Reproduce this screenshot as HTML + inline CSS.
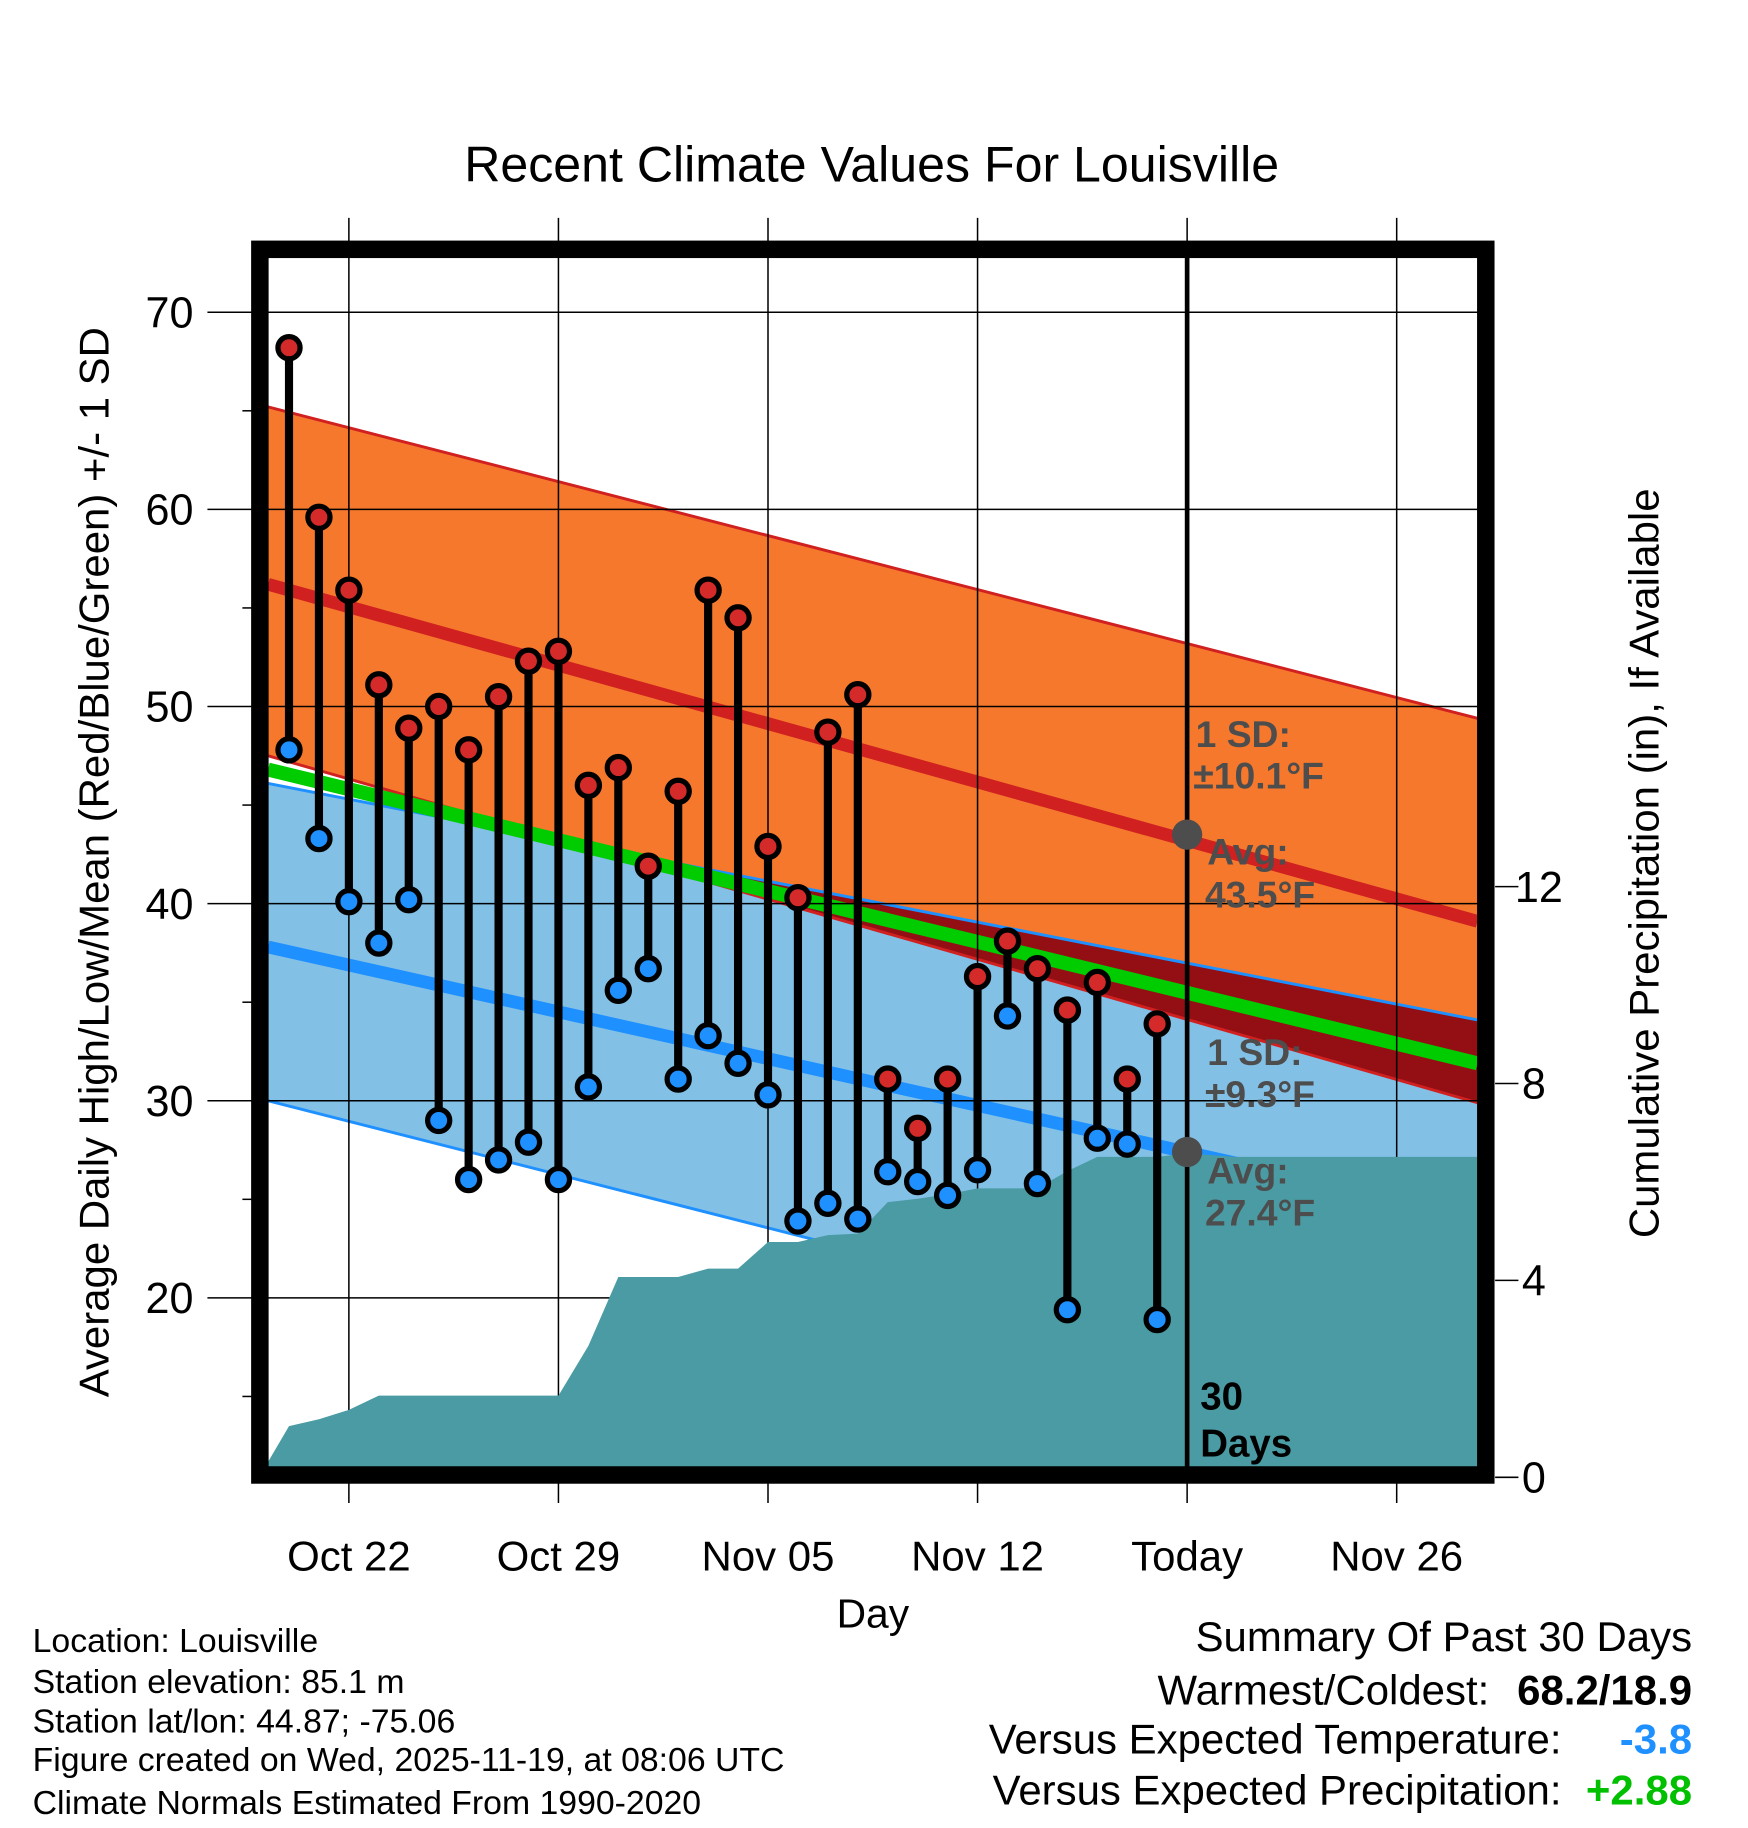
<!DOCTYPE html>
<html><head><meta charset="utf-8"><style>
html,body{margin:0;padding:0;background:#fff}
svg{display:block}
text{font-family:"Liberation Sans",Arial,sans-serif}
</style></head><body>
<svg id="chart" xmlns="http://www.w3.org/2000/svg" width="1748" height="1828" viewBox="0 0 1500 1569" preserveAspectRatio="none">
<defs><clipPath id="plotclip"><rect x="230" y="221" width="1038" height="1038"/></clipPath></defs>
<g id="bands" clip-path="url(#plotclip)"></g>
<g id="grid"></g>
<g id="precip" clip-path="url(#plotclip)"></g>
<g id="obs"></g>
<g id="labels"></g>
<rect x="223" y="214" width="1052" height="1052" fill="none" stroke="#000" stroke-width="15"/>
<text x="748" y="156" font-size="43" text-anchor="middle">Recent Climate Values For Louisville</text>
<text x="749" y="1397" font-size="35" text-anchor="middle">Day</text>
<text transform="translate(93,740) rotate(-90)" font-size="36" text-anchor="middle">Average Daily High/Low/Mean (Red/Blue/Green) +/- 1 SD</text>
<text transform="translate(1423,741) rotate(-90)" font-size="36" text-anchor="middle">Cumulative Precipitation (in), If Available</text>
<g font-size="29">
<text x="28" y="1418">Location: Louisville</text>
<text x="28" y="1453">Station elevation: 85.1 m</text>
<text x="28" y="1487">Station lat/lon: 44.87; -75.06</text>
<text x="28" y="1520">Figure created on Wed, 2025-11-19, at 08:06 UTC</text>
<text x="28" y="1557">Climate Normals Estimated From 1990-2020</text>
</g>
<g font-size="36">
<text x="1452" y="1417" text-anchor="end">Summary Of Past 30 Days</text>
<text x="1278" y="1463" text-anchor="end">Warmest/Coldest:</text>
<text x="1452" y="1463" text-anchor="end" font-weight="bold">68.2/18.9</text>
<text x="1340" y="1505" text-anchor="end">Versus Expected Temperature:</text>
<text x="1452" y="1505" text-anchor="end" font-weight="bold" fill="#1e90ff">-3.8</text>
<text x="1340" y="1549" text-anchor="end">Versus Expected Precipitation:</text>
<text x="1452" y="1549" text-anchor="end" font-weight="bold" fill="#00c000">+2.88</text>
</g>
</svg>
<script>
const NS="http://www.w3.org/2000/svg";
// data
const days=["Oct 20","Oct 21","Oct 22","Oct 23","Oct 24","Oct 25","Oct 26","Oct 27","Oct 28","Oct 29","Oct 30","Oct 31","Nov 01","Nov 02","Nov 03","Nov 04","Nov 05","Nov 06","Nov 07","Nov 08","Nov 09","Nov 10","Nov 11","Nov 12","Nov 13","Nov 14","Nov 15","Nov 16","Nov 17","Nov 18"];
const highs=[68.2,59.6,55.9,51.1,48.9,50.0,47.8,50.5,52.3,52.8,46.0,46.9,41.9,45.7,55.9,54.5,42.9,40.3,48.7,50.6,31.1,28.6,31.1,36.3,38.1,36.7,34.6,36.0,31.1,33.9];
const lows=[47.8,43.3,40.1,38.0,40.2,29.0,26.0,27.0,27.9,26.0,30.7,35.6,36.7,31.1,33.3,31.9,30.3,23.9,24.8,24.0,26.4,25.9,25.2,26.5,34.3,25.8,19.4,28.1,27.8,18.9];
const precipDays=[-1,0,1,2,3,4,5,6,7,8,9,10,11,12,13,14,15,16,17,18,19,20,21,22,23,24,25,26,27,28,29,30,31.6,41];
const precipVals=[0,1.04,1.18,1.37,1.66,1.66,1.66,1.66,1.66,1.66,1.66,2.67,4.07,4.07,4.07,4.24,4.24,4.78,4.78,4.92,4.95,5.59,5.66,5.75,5.87,5.87,5.87,6.22,6.51,6.51,6.51,6.58,6.51,6.51];
const normDays=[-0.7,39.7];
const highMean=[56.2,39.1], highUpper=[65.2,49.4], highLower=[47.5,29.9];
const lowMean=[37.8,24.1], lowUpper=[46.1,34.1], lowLower=[30.0,14.4];
const avgMean=[46.8,31.9];
const todayIdx=30, todayHigh=43.5, todayLow=27.4;
const xTickDays=[2,9,16,23,30,37];
const xTickLabels=["Oct 22","Oct 29","Nov 05","Nov 12","Today","Nov 26"];
const yTicks=[20,30,40,50,60,70];
const yMinor=[15,25,35,45,55,65];
const pTicks=[0,4,8,12];
// axes
const X=d=>248+d*25.69;
const Y=t=>268+(70-t)*16.92;
const P=p=>1268-p*42.25;
function mk(tag,attrs,parent){const e=document.createElementNS(NS,tag);for(const k in attrs)e.setAttribute(k,attrs[k]);parent.appendChild(e);return e;}
const bands=document.getElementById('bands'),grid=document.getElementById('grid'),prec=document.getElementById('precip'),obs=document.getElementById('obs'),lab=document.getElementById('labels');
const x0=X(normDays[0]),x1=X(normDays[1]);
function bandPoly(up,lo,fill,name){const e=mk('polygon',{points:`${x0},${Y(up[0])} ${x1},${Y(up[1])} ${x1},${Y(lo[1])} ${x0},${Y(lo[0])}`,fill:fill},bands);

}
bandPoly(highUpper,highLower,'#f5782d','high-sd-band');
bandPoly(lowUpper,lowLower,'#82c0e6','low-sd-band');
{const d0=lowUpper[0]-highLower[0],d1=lowUpper[1]-highLower[1];
 if(d1>0){const f=d0>0?0:(-d0)/(d1-d0);const xi=x0+f*(x1-x0);const ti=lowUpper[0]+f*(lowUpper[1]-lowUpper[0]);
  const a0=d0>0?`${x0},${Y(lowUpper[0])} `:'';const b0=d0>0?` ${x0},${Y(highLower[0])}`:'';
  const e=mk('polygon',{points:`${a0}${xi},${Y(ti)} ${x1},${Y(lowUpper[1])} ${x1},${Y(highLower[1])}${b0}`,fill:'#940f14'},bands);
  
  }}
function line(vals,stroke,w,name){const e=mk('line',{x1:x0,y1:Y(vals[0]),x2:x1,y2:Y(vals[1]),stroke:stroke,'stroke-width':w},bands);

}
line(highUpper,'#d02020',2.5,'high-upper-line');
line(highLower,'#d02020',2.5,'high-lower-line');
line(lowUpper,'#1e90ff',2.5,'low-upper-line');
line(lowLower,'#1e90ff',2.5,'low-lower-line');
line(highMean,'#d02020',11,'high-mean-line');
line(lowMean,'#1e90ff',11,'low-mean-line');
line(avgMean,'#00cc00',12,'mean-line');
// grid
yTicks.forEach(t=>{const e=mk('line',{x1:178,x2:1268,y1:Y(t),y2:Y(t),stroke:'#000','stroke-width':1.3},grid);


const tx=mk('text',{x:166,y:Y(t)+13,'font-size':37,'text-anchor':'end'},grid);tx.textContent=t;

});
yMinor.forEach(t=>{const e=mk('line',{x1:208,x2:216,y1:Y(t),y2:Y(t),stroke:'#000','stroke-width':1.3},grid);

});
xTickDays.forEach((d,i)=>{const e=mk('line',{x1:X(d),x2:X(d),y1:187,y2:1290,stroke:'#000','stroke-width':1.3},grid);


const tx=mk('text',{x:X(d),y:1348,'font-size':36,'text-anchor':'middle'},grid);tx.textContent=xTickLabels[i];

});
pTicks.forEach(p=>{const e=mk('line',{x1:1283,x2:1303,y1:P(p),y2:P(p),stroke:'#000','stroke-width':1.3},grid);


const tx=mk('text',{x:p>=10?1300:1306,y:P(p)+13,'font-size':37},grid);tx.textContent=p;

});
// precipitation
{let pts=precipDays.map((d,i)=>`${X(d)},${P(precipVals[i])}`).join(' ');
 pts+=` ${X(precipDays[precipDays.length-1])},1270 ${X(precipDays[0])},1270`;
 const e=mk('polygon',{points:pts,fill:'#4a9ba3'},prec);
 
 }
{const e=mk('line',{x1:X(todayIdx),x2:X(todayIdx),y1:221,y2:1262,stroke:'#000','stroke-width':4},obs);

}
days.forEach((d,i)=>{const x=X(i);
 const s=mk('line',{x1:x,x2:x,y1:Y(highs[i]),y2:Y(lows[i]),stroke:'#000','stroke-width':7},obs);
 
 });
days.forEach((d,i)=>{const x=X(i);
 const h=mk('circle',{cx:x,cy:Y(highs[i]),r:9.5,fill:'#d42a2a',stroke:'#000','stroke-width':4.5},obs);
 
 
 const l=mk('circle',{cx:x,cy:Y(lows[i]),r:9.5,fill:'#1e90ff',stroke:'#000','stroke-width':4.5},obs);
 
 });
[todayHigh,todayLow].forEach(t=>{const c=mk('circle',{cx:X(todayIdx),cy:Y(t),r:13,fill:'#4d4d4d'},lab);

});
const ann=[["1 SD:",1026,641],["±10.1°F",1024,677],["Avg:",1036,742],["43.5°F",1034,779],["1 SD:",1036,914],["±9.3°F",1034,950],["Avg:",1036,1016],["27.4°F",1034,1052]];
ann.forEach(a=>{const t=mk('text',{x:a[1],y:a[2],'font-size':32,'font-weight':'bold',fill:'#4d4d4d'},lab);t.textContent=a[0];

});
[["30",1210],["Days",1250]].forEach(a=>{const t=mk('text',{x:1030,y:a[1],'font-size':33,'font-weight':'bold',fill:'#000'},lab);t.textContent=a[0];

});
</script>
</body></html>
